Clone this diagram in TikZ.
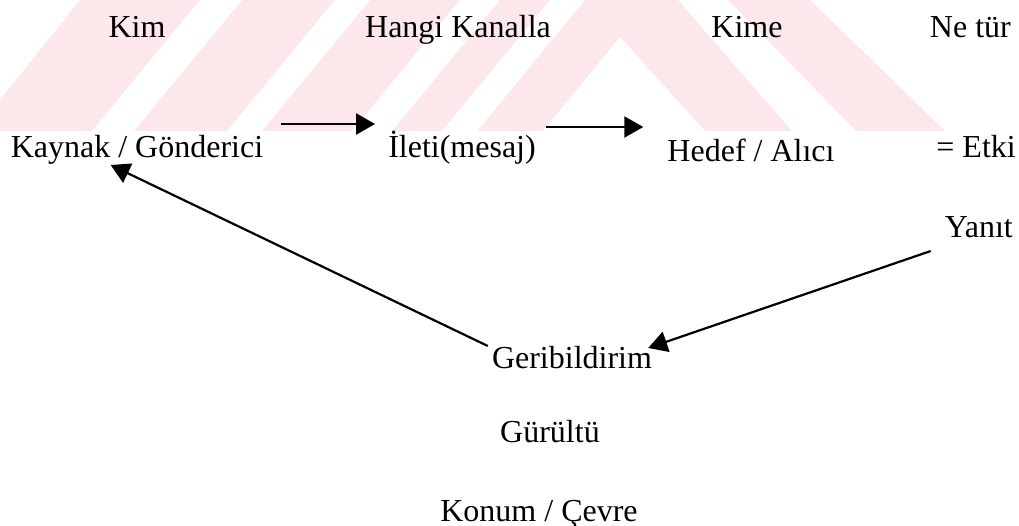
\documentclass[tikz,border=0pt]{standalone}
\usepackage{fontspec}
\setmainfont{Liberation Serif}
\usetikzlibrary{arrows.meta}
\definecolor{wm}{RGB}{252,231,235}
\begin{document}
\begin{tikzpicture}[x=1pt,y=-1pt,
  lbl/.style={inner sep=0pt, anchor=base, font=\fontsize{32}{38}\selectfont},
  lblr/.style={lbl, anchor=base east},
  arr/.style={line width=2.2pt, -{Triangle[length=19pt,width=21pt]}},
  wmfill/.style={fill=wm},
  gap/.style={fill=white}]
\useasboundingbox (0,0) rectangle (1019,526);
% faint watermark
\fill[wmfill] (80,0) -- (810,0) -- (945,131) -- (0,131) -- (0,100) -- cycle;
\fill[gap] (200,0) -- (242,0) -- (134,131) -- (92,131) -- cycle;
\fill[gap] (335,0) -- (370,0) -- (262,131) -- (227,131) -- cycle;
\fill[gap] (460,0) -- (500,0) -- (392,131) -- (352,131) -- cycle;
\fill[gap] (550,0) -- (585,0) -- (477,131) -- (442,131) -- cycle;
\fill[gap] (678,0) -- (728,0) -- (856,131) -- (792,131) -- cycle;
\fill[gap] (620,37) -- (705,131) -- (543,131) -- cycle;
% labels
\node[lbl] (kim)   at (137,38)  {Kim};
\node[lbl] (hangi) at (458,38)  {Hangi Kanalla};
\node[lbl] (kime)  at (747,38)  {Kime};
\node[lblr] (netur) at (1011,38) {Ne tür};
\node[lbl] (kaynak) at (137,158) {Kaynak / Gönderici};
\node[lbl] (ileti)  at (462,158) {İleti(mesaj)};
\node[lbl] (hedef)  at (751,162) {Hedef / Alıcı};
\node[lblr] (etki)  at (1016,158) {= Etki};
\node[lblr] (yanit) at (1013,238) {Yanıt};
\node[lbl] (geri)   at (572,368) {Geribildirim};
\node[lbl] (gurultu) at (550,442) {Gürültü};
\node[lbl] (konum)  at (539,521) {Konum / Çevre};
% connectors
\draw[arr] ([shift={(18,-34)}]kaynak.base east) -- ([shift={(-13,-34)}]ileti.base west);
\draw[arr] ([shift={(10,-31)}]ileti.base east) -- ([shift={(-24,-35)}]hedef.base west);
\draw[arr] ([shift={(-4,-22)}]geri.base west) -- ([shift={(100,7)}]kaynak.base west);
\draw[arr] ([shift={(-14,13)}]yanit.base west) -- ([shift={(-4,-20)}]geri.base east);
\end{tikzpicture}
\end{document}
